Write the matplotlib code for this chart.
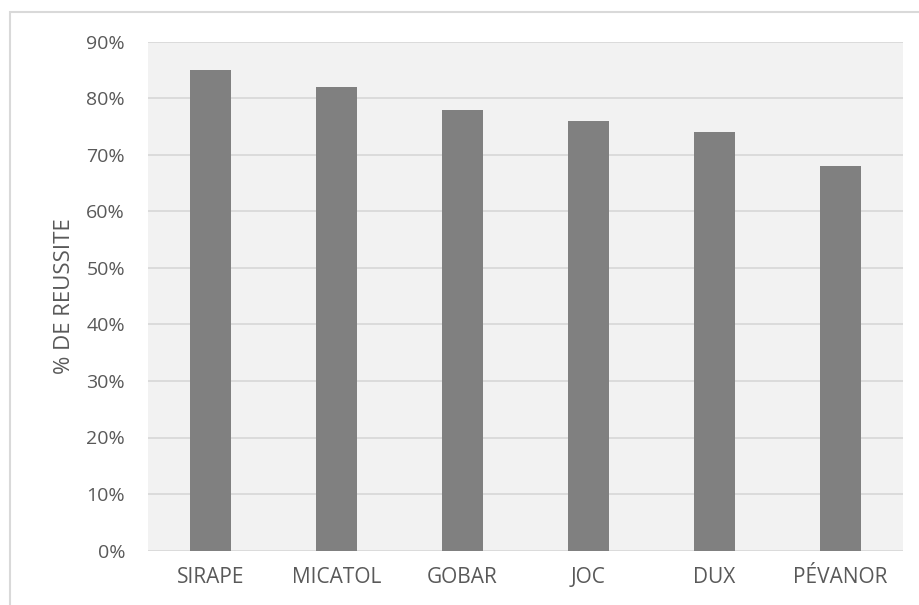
import matplotlib.pyplot as plt
from matplotlib.patches import Rectangle
from matplotlib.ticker import PercentFormatter

# data
produits = ['SIRAPE', 'MICATOL', 'GOBAR', 'JOC', 'DUX', 'PÉVANOR']
reussite = [85, 82, 78, 76, 74, 68]
yticks = [0, 10, 20, 30, 40, 50, 60, 70, 80, 90]

plt.rcParams['font.family'] = ['Open Sans', 'DejaVu Sans']

fig = plt.figure(figsize=(9.2, 6.05), dpi=100)
ax = fig.add_axes([148/920, 1 - 550.5/605, (903-148)/920, (550.5-42)/605])

# outer chart frame (only top and left edges are visible)
fig.patches.append(Rectangle((10/920, -0.1), 1.2, 1 - 12/605 + 0.1,
                             transform=fig.transFigure, fill=False,
                             edgecolor='#D9D9D9', linewidth=1.5))

ax.set_facecolor('#F2F2F2')
ax.bar(range(len(produits)), reussite, width=0.326, color='#808080', zorder=3)

ax.set_xlim(-0.5, len(produits) - 0.5)
ax.set_ylim(0, 90)
ax.set_yticks(yticks)
ax.yaxis.set_major_formatter(PercentFormatter(decimals=0))
ax.set_xticks(range(len(produits)))
ax.set_xticklabels(produits)
ax.grid(axis='y', color='#D9D9D9', linewidth=1.3, zorder=0)
ax.tick_params(length=0, labelcolor='#595959')
ax.tick_params(axis='y', labelsize=14, pad=16.5)
ax.tick_params(axis='x', labelsize=15, pad=12)
for s in ax.spines.values():
    s.set_visible(False)
ax.set_ylabel('% DE REUSSITE', fontsize=16, color='#595959', labelpad=8)

fig.savefig('out.png', dpi=100)
